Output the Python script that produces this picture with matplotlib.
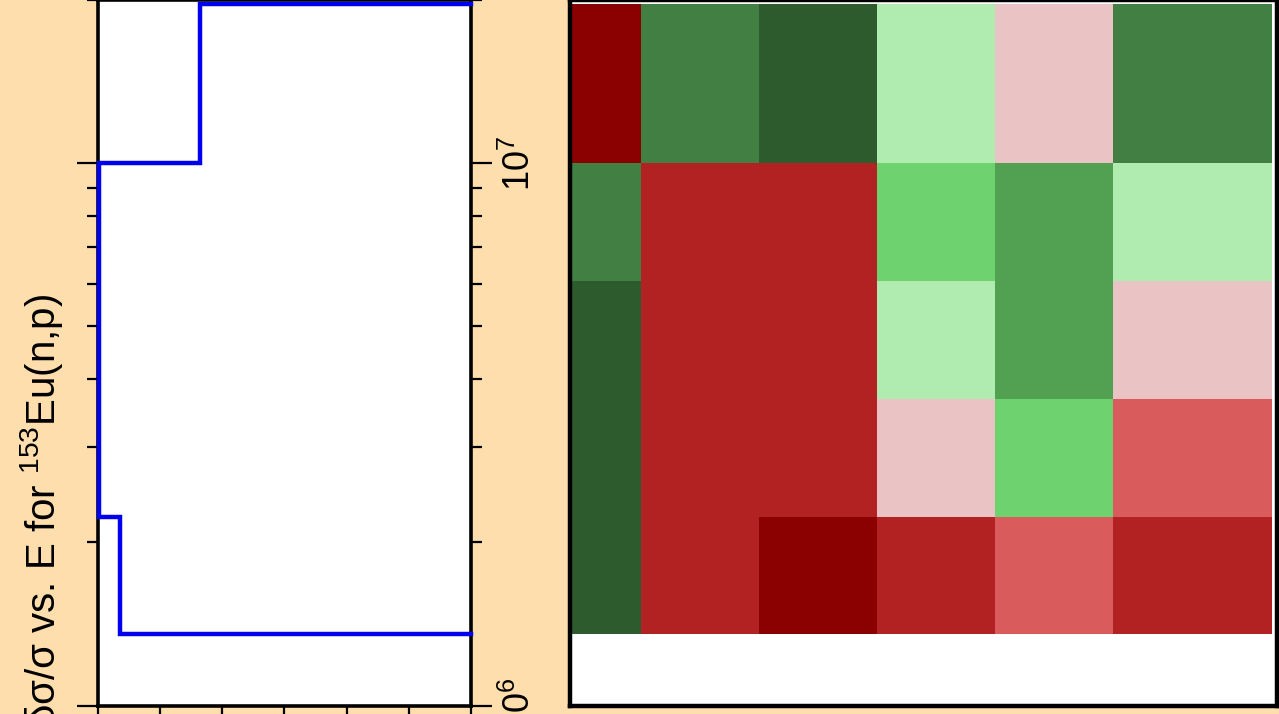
import numpy as np
import matplotlib
matplotlib.use('Agg')
import matplotlib.pyplot as plt
from matplotlib.colors import ListedColormap, BoundaryNorm
from matplotlib.ticker import LogLocator, NullFormatter, FixedLocator

plt.rcParams['font.family'] = ['Liberation Sans', 'DejaVu Sans']
plt.rcParams['mathtext.fontset'] = 'custom'
plt.rcParams['mathtext.rm'] = 'Liberation Sans'
plt.rcParams['mathtext.it'] = 'Liberation Sans:italic'
plt.rcParams['mathtext.bf'] = 'Liberation Sans:bold'

# ---- data ----
group_edges = [1.353e6, 2.231e6, 3.679e6, 6.065e6, 1.0e7, 1.964e7]
rel_unc = [28.2, 29.9, 29.9, 29.9, 21.8]          # percent, per group
corr_x_edges = [1.0e6, 1.353e6, 2.231e6, 3.679e6, 6.065e6, 1.0e7, 1.964e7]
corr_y_edges = group_edges
corr = [
    [0.9, -0.7, -0.9, -0.7, -0.5, -0.7],
    [0.9, -0.7, -0.7, -0.2, 0.4, -0.5],
    [0.9, -0.7, -0.7, 0.2, 0.6, -0.2],
    [0.75, -0.7, -0.7, 0.4, 0.6, 0.2],
    [-0.9, 0.75, 0.9, 0.2, -0.2, 0.75],
]
unc_ticks = [0, 5, 10, 15, 20, 25, 30]
ylabel = 'δσ/σ vs. E for $^{153}$Eu(n,p)'

cmap_colors = ['#8B0000', '#B22222', '#D95B5B', '#EAC4C4',
               '#B0EBB0', '#6ED36E', '#52A052', '#417F43', '#2E5B2E']
cmap_bounds = [-1, -0.8, -0.6, -0.35, 0, 0.3, 0.5, 0.7, 0.8, 1]

# ---- figure ----
W, H = 1279, 714
fig = plt.figure(figsize=(W / 100, H / 100), dpi=100, facecolor='#FFDEAD')

def px_axes(x0, x1, ytop, ybot):
    return fig.add_axes([x0 / W, (H - ybot) / H, (x1 - x0) / W, (ybot - ytop) / H])

# left panel: uncertainty vs energy (energy vertical)
axL = px_axes(97.5, 471, 0, 705.5)
axL.set_facecolor('white')
xs = [0.0]
ys = [group_edges[0]]
for i, v in enumerate(rel_unc):
    xs += [v, v]
    ys += [group_edges[i], group_edges[i + 1]]
xs.append(0.0)
ys.append(group_edges[-1])
axL.plot(xs, ys, color='#0000EE', lw=3.2, zorder=3, clip_on=False,
         solid_joinstyle='miter')
axL.set_yscale('log')
axL.set_ylim(1e6, 2e7)
axL.set_xlim(30, 0)
axL.xaxis.set_major_locator(FixedLocator(unc_ticks))
axL.yaxis.set_major_locator(LogLocator(base=10))
axL.yaxis.set_minor_locator(LogLocator(base=10, subs=np.arange(2, 10)))
axL.yaxis.set_minor_formatter(NullFormatter())
for s in axL.spines.values():
    s.set_linewidth(2.6)
axL.tick_params(axis='y', which='both', left=True, right=True,
                labelleft=False, labelright=True, direction='out')
axL.tick_params(axis='y', which='major', length=15, width=1.6,
                labelsize=26, labelrotation=90, pad=7)
axL.tick_params(axis='y', which='minor', length=8, width=1.6)
axL.tick_params(axis='x', which='major', length=15, width=1.6,
                labelsize=24, direction='out')
for t in axL.yaxis.get_major_ticks():
    t.label2.set_verticalalignment('center')

fig.text(42 / W, 1 - 294 / H, ylabel, rotation=90, ha='center', va='top',
         fontsize=29)

# right panel: correlation matrix
axR = px_axes(569.5, 1276.5, 0, 705.5)
axR.set_facecolor('white')
cmap = ListedColormap(cmap_colors)
norm = BoundaryNorm(cmap_bounds, cmap.N)
axR.pcolormesh(corr_x_edges, corr_y_edges, np.array(corr), cmap=cmap,
               norm=norm, edgecolors='face', linewidth=0)
axR.set_xscale('log')
axR.set_yscale('log')
axR.set_xlim(1e6, 2e7)
axR.set_ylim(1e6, 2e7)
axR.tick_params(which='both', length=0, labelbottom=False, labelleft=False)
for s in axR.spines.values():
    s.set_linewidth(3.2)

fig.savefig('out.png', dpi=100, facecolor=fig.get_facecolor())
